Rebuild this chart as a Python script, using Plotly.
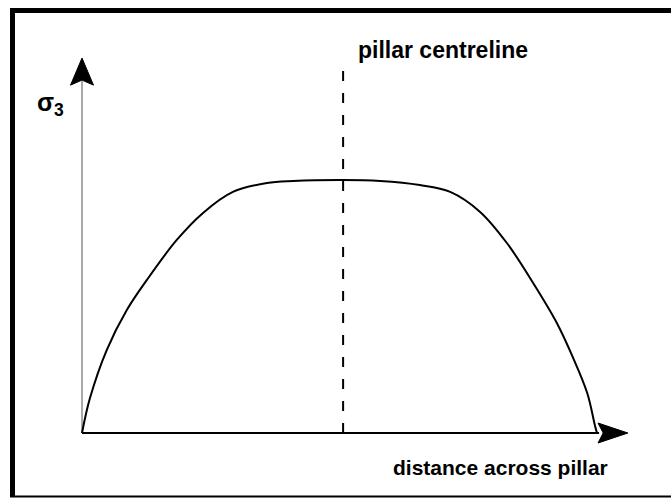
import plotly.graph_objects as go

# ---- data (distance across pillar in % of pillar width, sigma3 normalised to peak) ----
distance = [0.0, 1.55, 4.8, 8.7, 12.6, 18.4, 23.5, 29.3, 35.9, 41.0, 50.7,
            57.9, 65.6, 71.5, 77.3, 82.5, 87.6, 92.2, 95.3, 98.1, 99.6, 100.0]
sigma3 = [0.0, 0.138, 0.328, 0.486, 0.605, 0.763, 0.870, 0.953, 0.988, 0.996, 1.0,
          0.996, 0.980, 0.953, 0.874, 0.751, 0.593, 0.435, 0.300, 0.158, 0.03, 0.0]

centreline_x = 50.7
centreline_top = 1.455
x_axis_end = 106.0
y_axis_end = 1.482

label_centreline = "pillar centreline"
label_x = "distance across pillar"
label_y = "σ<sub>3</sub>"

FONT = "Liberation Sans, Arial, sans-serif"

fig = go.Figure()

# y axis line (thin, grey)
fig.add_trace(go.Scatter(x=[0, 0], y=[0, y_axis_end - 0.09], mode="lines",
                         line=dict(color="#555555", width=1), hoverinfo="skip"))
# x axis line
fig.add_trace(go.Scatter(x=[0, x_axis_end - 5.6], y=[0, 0], mode="lines",
                         line=dict(color="black", width=2), hoverinfo="skip"))
# centreline
fig.add_trace(go.Scatter(x=[centreline_x, centreline_x], y=[0, centreline_top], mode="lines",
                         line=dict(color="black", width=2, dash="10px,12px"), hoverinfo="skip"))
# stress curve
fig.add_trace(go.Scatter(x=distance, y=sigma3, mode="lines",
                         line=dict(color="black", width=2, shape="spline", smoothing=1.0),
                         hoverinfo="skip"))

# arrowheads (notched)
hw_x = 11.5 / 5.15
fig.add_shape(type="path", xref="x", yref="y", fillcolor="black", line=dict(color="black", width=1),
              path=f"M 0 {y_axis_end} L {hw_x} {y_axis_end-0.107} L 0 {y_axis_end-0.087} "
                   f"L {-hw_x} {y_axis_end-0.107} Z")
hh_y = 10 / 253
fig.add_shape(type="path", xref="x", yref="y", fillcolor="black", line=dict(color="black", width=1),
              path=f"M {x_axis_end} 0 L {x_axis_end-5.8} {hh_y} L {x_axis_end-4.8} 0 "
                   f"L {x_axis_end-5.8} {-hh_y} Z")

# frame (top, left thick; bottom thin)
fig.add_shape(type="line", xref="paper", yref="paper", x0=10/671, x1=1.0,
              y0=1-10.5/499, y1=1-10.5/499, line=dict(color="black", width=5))
fig.add_shape(type="line", xref="paper", yref="paper", x0=12.5/671, x1=12.5/671,
              y0=1-8/499, y1=1-497/499, line=dict(color="black", width=5))
fig.add_shape(type="line", xref="paper", yref="paper", x0=10/671, x1=1.0,
              y0=1-496.5/499, y1=1-496.5/499, line=dict(color="black", width=2))

# labels
fig.add_annotation(x=53.2, y=1.514, text=label_centreline, showarrow=False,
                   xanchor="left", yanchor="middle",
                   font=dict(family=FONT, size=23, color="black", weight="bold"))
fig.add_annotation(x=102.5, y=-0.138, text=label_x, showarrow=False,
                   xanchor="right", yanchor="middle",
                   font=dict(family=FONT, size=21, color="black", weight="bold"))
fig.add_annotation(x=-9.2, y=1.30, text=label_y, showarrow=False,
                   xanchor="left", yanchor="middle",
                   font=dict(family=FONT, size=25, color="black", weight="bold"))

fig.update_layout(
    width=671, height=499,
    margin=dict(l=0, r=0, t=0, b=0),
    paper_bgcolor="white", plot_bgcolor="white",
    showlegend=False,
    xaxis=dict(range=[-82/5.15, (671-82)/5.15], visible=False, fixedrange=True),
    yaxis=dict(range=[-66/253, 433/253], visible=False, fixedrange=True),
)

fig.write_html("out.html", config={"displayModeBar": False},
               post_script="document.body.style.margin='0';document.body.style.overflow='hidden';")
